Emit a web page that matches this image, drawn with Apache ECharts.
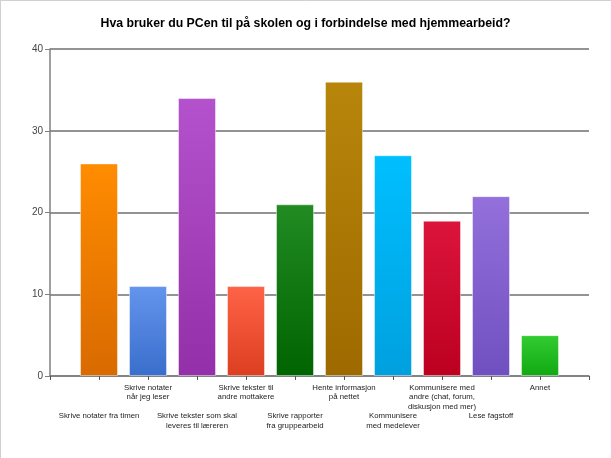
<!DOCTYPE html>
<html>
<head>
<meta charset="utf-8">
<script src="https://cdn.jsdelivr.net/npm/echarts@6/dist/echarts.min.js"></script>
<style>
html,body{margin:0;padding:0;background:#fff;}
#c{width:611px;height:458px;}
</style>
</head>
<body>
<div id="c"></div>
<script>
var categories = [
  "Skrive notater fra timen",
  "Skrive notater\nnår jeg leser",
  "Skrive tekster som skal\nleveres til læreren",
  "Skrive tekster til\nandre mottakere",
  "Skrive rapporter\nfra gruppearbeid",
  "Hente informasjon\npå nettet",
  "Kommunisere\nmed medelever",
  "Kommunisere med\nandre (chat, forum,\ndiskusjon med mer)",
  "Lese fagstoff",
  "Annet"
];
var values = [26, 11, 34, 11, 21, 36, 27, 19, 22, 5];
var yTicks = [0, 10, 20, 30, 40];
var topColors = ["#FF8C00", "#6495ED", "#B452CD", "#FF6347", "#228B22", "#B8860B", "#00BFFF", "#DC143C", "#9370DB", "#32CD32"];
var bottomColors = ["#D96A00", "#3A6ECC", "#932FA8", "#DC3E20", "#006400", "#9E6A00", "#00A0DE", "#BC0020", "#7050C0", "#12A812"];

var chart = echarts.init(document.getElementById('c'), null, {renderer: 'canvas'});

var barData = values.map(function (v, i) {
  return {
    value: [i + 1, v],
    itemStyle: {
      color: new echarts.graphic.LinearGradient(0, 0, 0, 1, [
        {offset: 0, color: topColors[i]},
        {offset: 1, color: bottomColors[i]}
      ]),
      borderColor: 'rgba(255,255,255,0.45)',
      borderWidth: 1
    }
  };
});

chart.setOption({
  animation: false,
  backgroundColor: '#fff',
  title: {
    text: 'Hva bruker du PCen til på skolen og i forbindelse med hjemmearbeid?',
    left: 'center',
    top: 13,
    textStyle: {fontFamily: 'Liberation Sans, Arial', fontSize: 12.3, fontWeight: 'bold', color: '#000'}
  },
  graphic: [
    {type: 'line', shape: {x1: 0, y1: 0.5, x2: 611, y2: 0.5}, style: {stroke: '#d0d0d0', lineWidth: 1}},
    {type: 'line', shape: {x1: 0.5, y1: 0, x2: 0.5, y2: 458}, style: {stroke: '#d0d0d0', lineWidth: 1}}
  ],
  grid: {left: 50, right: 22, top: 49, bottom: 82, containLabel: false},
  xAxis: {
    type: 'value',
    min: 0,
    max: 11,
    interval: 1,
    splitLine: {show: false},
    axisLine: {show: true, lineStyle: {color: '#7f7f7f', width: 1.5}},
    axisTick: {show: true, length: 4, lineStyle: {color: '#555'}},
    axisLabel: {
      show: true,
      margin: 7,
      fontFamily: 'Liberation Sans, Arial',
      fontSize: 7.8,
      lineHeight: 9.5,
      color: '#222',
      showMinLabel: true,
      showMaxLabel: true,
      formatter: function (val) {
        var i = Math.round(val) - 1;
        if (i < 0 || i >= categories.length) return '';
        return (i % 2 === 0 ? '\n\n\n' : '') + categories[i];
      },
      verticalAlign: 'top'
    }
  },
  yAxis: {
    type: 'value',
    min: yTicks[0],
    max: yTicks[yTicks.length - 1],
    interval: 10,
    axisLine: {show: true, lineStyle: {color: '#7f7f7f', width: 1.5}},
    axisTick: {show: true, length: 5, lineStyle: {color: '#7f7f7f'}},
    axisLabel: {margin: 7, fontFamily: 'Liberation Sans, Arial', fontSize: 10, color: '#444'},
    splitLine: {show: true, lineStyle: {color: '#6f6f6f', width: 1.5}}
  },
  series: [{
    type: 'bar',
    barWidth: 38,
    data: barData
  }]
});
</script>
</body>
</html>
